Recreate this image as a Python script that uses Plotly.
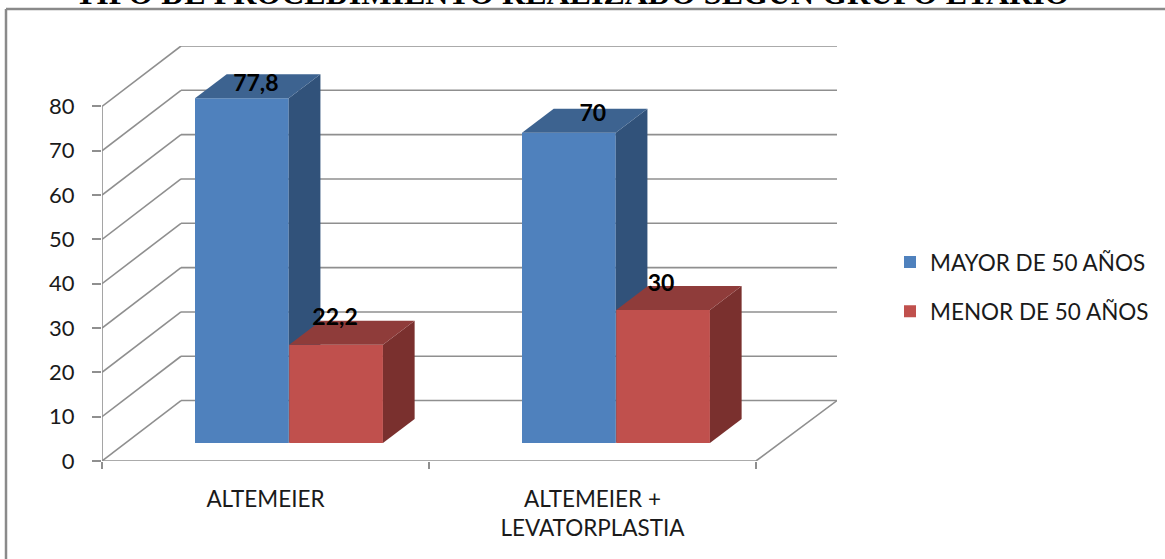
import plotly.graph_objects as go

# --- data ---
categories = ["ALTEMEIER", "ALTEMEIER +<br>LEVATORPLASTIA"]
mayor_50 = [77.8, 70]
menor_50 = [22.2, 30]
series_names = ["MAYOR DE 50 AÑOS", "MENOR DE 50 AÑOS"]
y_ticks = [0, 10, 20, 30, 40, 50, 60, 70, 80]
title_text = "TIPO DE PROCEDIMIENTO REALIZADO SEGUN GRUPO ETARIO"

# --- geometry of the oblique projection (axis units) ---
W, H = 1165, 559
ML, MR, MT, MB = 102, 837, 46, 461.5      # plot area in pixels
PX_X = 327.0
PX_Y = 4.4375
X_MAX = (MR - ML) / PX_X
Y_MAX = (MB - MT) / PX_Y
WALL_DX, WALL_DY = 79 / PX_X, 60.5 / PX_Y
BAR_DX, BAR_DY = 31.7 / PX_X, 24 / PX_Y
BAR_BASE = 18 / PX_Y
BAR_W = 0.2866
BLUE_OFF, RED_OFF = 0.2844 + BAR_W / 2, 0.5725 + BAR_W / 2

GRID = "#8f8f8f"
BLUE, BLUE_TOP, BLUE_SIDE = "#4F81BD", "#3D6390", "#31527A"
RED, RED_TOP, RED_SIDE = "#C0504D", "#8F3C3A", "#7A302E"
FONT = "Lato"
TXT = "#1a1a1a"

x_pos = list(range(len(categories)))
fig = go.Figure()


def add_bar(values, off, name, color, top, side, xa, ya):
    xs = [i + off for i in x_pos]
    fig.add_trace(go.Bar(x=xs, y=values, base=[BAR_BASE] * len(values), width=BAR_W, name=name,
                         marker=dict(color=color, line=dict(width=0)), legendgroup=name,
                         xaxis=xa, yaxis=ya, hoverinfo="y"))
    for x, v in zip(xs, values):
        xl, xr = x - BAR_W / 2, x + BAR_W / 2
        yb, yt = BAR_BASE, BAR_BASE + v
        fig.add_trace(go.Scatter(x=[xr, xr + BAR_DX, xr + BAR_DX, xr, xr],
                                 y=[yb, yb + BAR_DY, yt + BAR_DY, yt, yb],
                                 mode="lines", fill="toself", fillcolor=side, line=dict(width=0),
                                 showlegend=False, hoverinfo="skip", xaxis=xa, yaxis=ya))
        fig.add_trace(go.Scatter(x=[xl, xl + BAR_DX, xr + BAR_DX, xr, xl],
                                 y=[yt, yt + BAR_DY, yt + BAR_DY, yt, yt],
                                 mode="lines", fill="toself", fillcolor=top, line=dict(width=0),
                                 showlegend=False, hoverinfo="skip", xaxis=xa, yaxis=ya))


add_bar(mayor_50, BLUE_OFF, series_names[0], BLUE, BLUE_TOP, BLUE_SIDE, "x", "y")
add_bar(menor_50, RED_OFF, series_names[1], RED, RED_TOP, RED_SIDE, "x2", "y2")

# data labels
label_shift = [(14, 13), (24, 18), (-1, 25), (-2, 25)]
label_x, label_y, label_t = [], [], []
for (vals, off), shifts in zip(((mayor_50, BLUE_OFF), (menor_50, RED_OFF)), (label_shift[:2], label_shift[2:])):
    for i, v, (sx, sy) in zip(x_pos, vals, shifts):
        label_x.append(i + off + sx / PX_X)
        label_y.append(BAR_BASE + v + sy / PX_Y)
        label_t.append(f"{v:g}".replace(".", ","))
fig.add_trace(go.Scatter(x=label_x, y=label_y, text=label_t, mode="text", textposition="middle center",
                         textfont=dict(family=FONT, size=23, color="black", weight="bold"),
                         showlegend=False, hoverinfo="skip", xaxis="x2", yaxis="y2"))

# wall, floor and axis lines
shapes = []


def line(x0, y0, x1, y1):
    shapes.append(dict(type="line", xref="x", yref="y", x0=x0, y0=y0, x1=x1, y1=y1, layer="below",
                       line=dict(color=GRID, width=1.6)))


for v in y_ticks:
    line(0, v, WALL_DX, v + WALL_DY)
    line(WALL_DX, v + WALL_DY, X_MAX, v + WALL_DY)
line(0, 0, 0, y_ticks[-1])
line(0, 0, len(categories), 0)
line(len(categories), 0, X_MAX, WALL_DY)

# outer frame (runs off the right and bottom of the picture)
fx = lambda px: (px - ML) / (MR - ML)
fy = lambda py: (MB - py) / (MB - MT)
for a, b in (((6, H + 5), (6, 9)), ((6, 9), (W + 5, 9))):
    shapes.append(dict(type="line", xref="paper", yref="paper", x0=fx(a[0]), y0=fy(a[1]),
                       x1=fx(b[0]), y1=fy(b[1]), layer="below", line=dict(color="#8a8a8a", width=2.5)))

fig.update_layout(
    width=W, height=H, autosize=False,
    margin=dict(l=ML, r=W - MR, t=MT, b=H - MB, pad=0, autoexpand=False),
    paper_bgcolor="white", plot_bgcolor="rgba(0,0,0,0)",
    barmode="overlay", shapes=shapes,
    font=dict(family=FONT, color=TXT),
    xaxis=dict(range=[0, X_MAX], showgrid=False, zeroline=False, showline=False, ticks="",
               tickmode="array", tickvals=[i + 0.5 for i in x_pos], ticktext=categories,
               tickfont=dict(family=FONT, size=22.5, color=TXT), ticklabelstandoff=22,
               minor=dict(tickmode="array", tickvals=x_pos + [len(categories)], ticks="outside",
                          ticklen=7, tickwidth=1.6, tickcolor=GRID, showgrid=False)),
    yaxis=dict(range=[0, Y_MAX], showgrid=False, zeroline=False, showline=False, ticks="outside",
               ticklen=9, tickwidth=1.6, tickcolor=GRID, tickmode="array", tickvals=y_ticks,
               tickfont=dict(family=FONT, size=22, color=TXT), ticklabelstandoff=13),
    xaxis2=dict(overlaying="x", matches="x", visible=False),
    yaxis2=dict(overlaying="y", matches="y", visible=False),
    legend=dict(x=fx(890), y=fy(241), xanchor="left", yanchor="top", tracegroupgap=17,
                font=dict(family=FONT, size=22.5, color=TXT), bgcolor="rgba(0,0,0,0)"),
    annotations=[dict(text=title_text, xref="paper", yref="paper", x=fx(572), y=1, xanchor="center",
                      yanchor="bottom", yshift=33, showarrow=False,
                      font=dict(family="Liberation Serif", size=32, color="black", weight="bold"))],
)

fig.write_html("out.html", config={"displayModeBar": False}, post_script="document.body.style.margin='0';")
